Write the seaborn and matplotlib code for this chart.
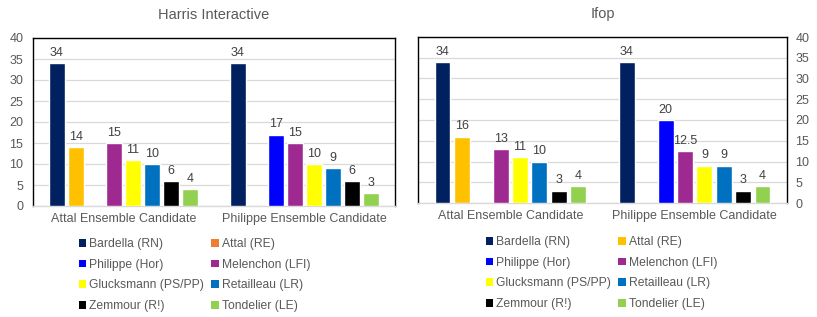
import matplotlib
matplotlib.use("Agg")
import matplotlib.pyplot as plt
from matplotlib.patches import Patch
import numpy as np
import pandas as pd
import seaborn as sns

categories = ["Attal Ensemble Candidate", "Philippe Ensemble Candidate"]
candidates = ["Bardella (RN)", "Attal (RE)", "Philippe (Hor)", "Melenchon (LFI)",
              "Glucksmann (PS/PP)", "Retailleau (LR)", "Zemmour (R!)", "Tondelier (LE)"]
colors = ["#002060", "#FFC000", "#0000FF", "#9E2A91",
          "#FFFF00", "#0070C0", "#000000", "#92D050"]
legend_colors_harris = ["#002060", "#ED7D31", "#0000FF", "#9E2A91",
                        "#FFFF00", "#0070C0", "#000000", "#92D050"]

harris_attal = [34, 14, np.nan, 15, 11, 10, 6, 4]
harris_philippe = [34, np.nan, 17, 15, 10, 9, 6, 3]
ifop_attal = [34, 16, np.nan, 13, 11, 10, 3, 4]
ifop_philippe = [34, np.nan, 20, 12.5, 9, 9, 3, 4]

yticks = [0, 5, 10, 15, 20, 25, 30, 35, 40]

sns.set_theme(style="white")
plt.rcParams["font.family"] = ["Liberation Sans", "DejaVu Sans"]

TXT = "#595959"
LBL = "#404040"


def make_df(a, p):
    rows = []
    for cat, vals in zip(categories, [a, p]):
        for c, v in zip(candidates, vals):
            if not np.isnan(v):
                rows.append({"cat": cat, "cand": c, "val": v})
    return pd.DataFrame(rows)


fig = plt.figure(figsize=(8.17, 3.17), dpi=100)
fig.patch.set_facecolor("white")
ax1 = fig.add_axes([33 / 817, 1 - 206 / 317, 362 / 817, 168 / 317])
ax2 = fig.add_axes([418 / 817, 1 - 203 / 317, 369 / 817, 166 / 317])


def draw(ax, df, title, right=False):
    sns.barplot(data=df, x="cat", y="val", hue="cand", order=categories,
                hue_order=candidates, palette=colors, width=0.84, gap=0.18,
                errorbar=None, legend=False, ax=ax, saturation=1, zorder=3)
    ax.set_ylim(0, 40)
    ax.set_xlim(-0.5, 1.5)
    ax.set_yticks(yticks)
    ax.set_xlabel("")
    ax.set_ylabel("")
    ax.grid(axis="y", color="#D9D9D9", linewidth=0.9, zorder=0)
    ax.set_axisbelow(True)
    for s in ["top", "left", "right"]:
        ax.spines[s].set_color("black")
        ax.spines[s].set_linewidth(1.0)
        ax.spines[s].set_visible(True)
    ax.spines["bottom"].set_color("#D9D9D9")
    ax.spines["bottom"].set_linewidth(1.0)
    ax.spines["bottom"].set_visible(True)
    ax.tick_params(axis="both", length=0, labelsize=9, labelcolor=TXT)
    ax.tick_params(axis="x", pad=5)
    if right:
        ax.yaxis.tick_right()
        ax.tick_params(axis="y", pad=6)
    else:
        ax.tick_params(axis="y", pad=7)
    for cont in ax.containers:
        ax.bar_label(cont, fmt=lambda v: f"{v:g}", padding=3, fontsize=9, color=LBL)
    ax.set_title(title, fontsize=10.5, color=TXT, pad=14)


draw(ax1, make_df(harris_attal, harris_philippe), "Harris Interactive")
draw(ax2, make_df(ifop_attal, ifop_philippe), "Ifop", right=True)


def legend(colors_list, x, y):
    order = [0, 2, 4, 6, 1, 3, 5, 7]
    handles = [Patch(facecolor=colors_list[i], edgecolor="none", label=candidates[i]) for i in order]
    fig.legend(handles=handles, loc="upper left", bbox_to_anchor=(x, y), ncol=2,
               frameon=False, fontsize=8.7, labelcolor=TXT, handlelength=0.6,
               handleheight=0.6, handletextpad=0.25, labelspacing=0.72,
               columnspacing=0.6, borderpad=0, borderaxespad=0)


legend(legend_colors_harris, 79 / 817, 1 - 238 / 317)
legend(colors, 486 / 817, 1 - 236 / 317)

fig.savefig("out.png", dpi=100, facecolor="white")
